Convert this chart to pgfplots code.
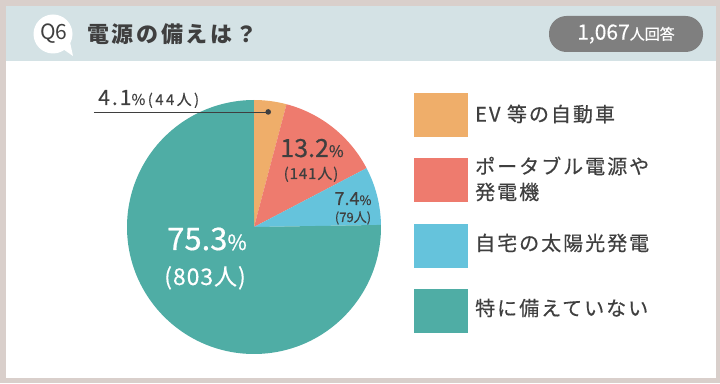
\documentclass[border=0pt]{standalone}
\usepackage{fontspec}
\setmainfont{Noto Sans CJK JP}
\usepackage{pgfplots}
\pgfplotsset{compat=1.18}
\definecolor{frameC}{HTML}{D9CFCB}
\definecolor{headC}{HTML}{D4E2E5}
\definecolor{txtC}{HTML}{3F3F3F}
\definecolor{badgeC}{HTML}{7F7F7F}
\definecolor{orangeC}{HTML}{EFAE6A}
\definecolor{salmonC}{HTML}{EE7B6E}
\definecolor{blueC}{HTML}{65C3DC}
\definecolor{tealC}{HTML}{4FADA5}
\newcommand{\fs}[1]{\fontsize{#1}{#1}\selectfont}
% counts (people)
\def\nA{44}   % EV
\def\nB{141}  % portable
\def\nC{79}   % solar
\def\nD{803}  % none
\pgfmathsetmacro\tot{\nA+\nB+\nC+\nD}
\pgfmathsetmacro\aA{90-(\nA/\tot)*360}
\pgfmathsetmacro\aB{\aA-(\nB/\tot)*360}
\pgfmathsetmacro\aC{\aB-(\nC/\tot)*360}
\pgfmathsetmacro\aD{\aC-(\nD/\tot)*360}
\begin{document}
\begin{tikzpicture}[x=1pt,y=1pt]
\useasboundingbox (0,0) rectangle (720,383);
\fill[frameC] (0,0) rectangle (720,383);
\fill[white] (6,5) rectangle (716,377);
\fill[headC] (6,322) rectangle (716,377);
% Q6 bubble
\fill[white] (53,349) circle[radius=19.5];
\fill[white] (60,336) -- (73,327) -- (70,341) -- cycle;
\node[txtC, inner sep=0] at (54,349.5) {\fs{21}Q6};
% title
\node[txtC, anchor=west, inner sep=0] at (87,349) {\fs{22}\addfontfeatures{LetterSpace=12}\bfseries 電源の備えは？};
% badge
\fill[badgeC, rounded corners=17.5pt] (549,331) rectangle (703,367);
\node[white, inner sep=0] at (626,349) {\fs{21}\addfontfeatures{FakeBold=0.3}1,067\fs{15}人回答};

\begin{axis}[at={(254pt,156pt)}, anchor=origin, x=127pt, y=127pt,
  xmin=-1, xmax=1, ymin=-1, ymax=1, hide axis, clip=false]
\fill[orangeC] (axis cs:0,0) -- (axis cs:0,1) arc[start angle=90, end angle=\aA, radius=127pt] -- cycle;
\fill[salmonC] (axis cs:0,0) -- (axis cs:{cos(\aA)},{sin(\aA)}) arc[start angle=\aA, end angle=\aB, radius=127pt] -- cycle;
\fill[blueC] (axis cs:0,0) -- (axis cs:{cos(\aB)},{sin(\aB)}) arc[start angle=\aB, end angle=\aC, radius=127pt] -- cycle;
\fill[tealC] (axis cs:0,0) -- (axis cs:{cos(\aC)},{sin(\aC)}) arc[start angle=\aC, end angle=\aD, radius=127pt] -- cycle;
\draw[txtC, line width=0.8pt] (axis cs:-1.26,0.906) -- (axis cs:0.112,0.906);
\fill[txtC] (axis cs:0.112,0.906) circle[radius=2.8pt];
\end{axis}

% slice labels
\node[txtC, anchor=base west, inner sep=0] at (98,278) {\fs{21}\addfontfeatures{LetterSpace=10,FakeBold=0.6}4.1\fs{15}\addfontfeatures{LetterSpace=16,FakeBold=0.3}\%(44人)};
\node[txtC, anchor=base, inner sep=0] at (312,226) {\fs{25}\addfontfeatures{FakeBold=0.6}13.2\fs{16}\%};
\node[txtC, anchor=base, inner sep=0] at (311,204) {\fs{15}\addfontfeatures{LetterSpace=6,FakeBold=0.3}(141人)};
\node[txtC, anchor=base, inner sep=0] at (353,178) {\fs{18}\addfontfeatures{FakeBold=0.6}7.4\fs{13}\%};
\node[txtC, anchor=base, inner sep=0] at (353,161) {\fs{13}\addfontfeatures{FakeBold=0.3}(79人)};
\node[white, anchor=base, inner sep=0] at (207,133) {\fs{31}\addfontfeatures{FakeBold=0.6}75.3\fs{21}\%};
\node[white, anchor=base, inner sep=0] at (205,98) {\fs{23}\addfontfeatures{LetterSpace=4,FakeBold=0.4}(803人)};

% legend
\fill[orangeC] (414,246) rectangle (468,290);
\fill[salmonC] (414,181) rectangle (468,225);
\fill[blueC] (414,115) rectangle (468,159);
\fill[tealC] (414,50) rectangle (468,94);
\begin{scope}[every node/.style={txtC, anchor=west, inner sep=0}]
\node at (475,269) {\fs{20}\addfontfeatures{LetterSpace=10,FakeBold=0.5}EV 等の自動車};
\node at (475,217) {\fs{20}\addfontfeatures{LetterSpace=10,FakeBold=0.5}ポータブル電源や};
\node at (475,191) {\fs{20}\addfontfeatures{LetterSpace=10,FakeBold=0.5}発電機};
\node at (475,140) {\fs{20}\addfontfeatures{LetterSpace=10,FakeBold=0.5}自宅の太陽光発電};
\node at (475,75) {\fs{20}\addfontfeatures{LetterSpace=10,FakeBold=0.5}特に備えていない};
\end{scope}
\end{tikzpicture}
\end{document}
